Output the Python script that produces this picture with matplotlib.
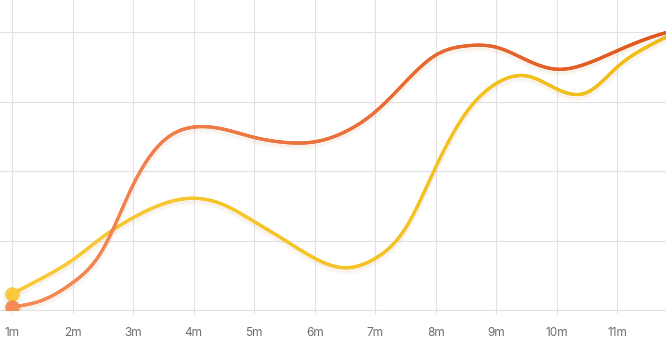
import numpy as np
import matplotlib
matplotlib.use("Agg")
import matplotlib.pyplot as plt
from matplotlib.collections import LineCollection
from matplotlib.colors import LinearSegmentedColormap

# x axis ticks
months = [1, 2, 3, 4, 5, 6, 7, 8, 9, 10, 11, 12]
month_labels = ["1m", "2m", "3m", "4m", "5m", "6m", "7m", "8m", "9m", "10m", "11m", "12m"]
y_ticks = [0, 25, 50, 75, 100]

# values every half month
x_points = [1, 1.5, 2, 2.5, 3, 3.5, 4, 4.5, 5, 5.5, 6, 6.5,
            7, 7.5, 8, 8.5, 9, 9.5, 10, 10.5, 11, 11.5, 12]
series_orange = [1.1, 3.5, 9.8, 21.8, 45.0, 60.8, 65.8, 65.0, 62.1, 60.3, 60.5, 64.1,
                 71.3, 82.1, 91.7, 95.0, 94.5, 89.9, 86.6, 88.7, 93.3, 97.7, 101.0]
series_yellow = [5.8, 11.5, 18.0, 26.3, 33.2, 38.2, 40.2, 37.8, 31.8, 25.2, 18.6, 15.2,
                 18.6, 29.5, 51.5, 71.0, 81.5, 84.2, 79.5, 78.3, 87.5, 94.8, 100.3]

GRID = "#e2e2e2"
LABEL = "#6e6e6e"


def natural_spline(x, y, xs):
    """Natural cubic spline through the data points (smooth line style)."""
    x = np.asarray(x, float)
    y = np.asarray(y, float)
    n = len(x)
    h = np.diff(x)
    A = np.zeros((n, n))
    r = np.zeros(n)
    A[0, 0] = A[-1, -1] = 1
    for i in range(1, n - 1):
        A[i, i - 1] = h[i - 1]
        A[i, i] = 2 * (h[i - 1] + h[i])
        A[i, i + 1] = h[i]
        r[i] = 3 * ((y[i + 1] - y[i]) / h[i] - (y[i] - y[i - 1]) / h[i - 1])
    c = np.linalg.solve(A, r)
    b = (y[1:] - y[:-1]) / h - h * (2 * c[:-1] + c[1:]) / 3
    d = (c[1:] - c[:-1]) / (3 * h)
    idx = np.clip(np.searchsorted(x, xs) - 1, 0, n - 2)
    dx = xs - x[idx]
    return y[idx] + b[idx] * dx + c[idx] * dx ** 2 + d[idx] * dx ** 3


def gradient_line(ax, x, y, c_start, c_end, z):
    xs = np.linspace(x[0], x[-1], 800)
    ys = natural_spline(x, y, xs)
    # soft shadow under the line
    for off, a in [(-0.9, 0.06), (-1.6, 0.04)]:
        ax.plot(xs, ys + off, color="#c08040", lw=3.5, alpha=a,
                solid_capstyle="round", zorder=z - 1)
    pts = np.column_stack([xs, ys]).reshape(-1, 1, 2)
    segs = np.concatenate([pts[:-1], pts[1:]], axis=1)
    cmap = LinearSegmentedColormap.from_list("g", [c_start, c_end])
    lc = LineCollection(segs, cmap=cmap, linewidths=2.3, capstyle="round",
                        zorder=z)
    lc.set_array((xs[:-1] - x[0]) / (x[-1] - x[0]))
    ax.add_collection(lc)
    ax.scatter([x[0]], [y[0] - 0.6], s=180, color="#000000", alpha=0.05,
               linewidths=0, zorder=z + 1)
    ax.scatter([x[0]], [y[0]], s=105, color=c_start, linewidths=0, zorder=z + 2)


fig = plt.figure(figsize=(6.66, 3.55), dpi=100)
ax = fig.add_axes([0, 45 / 355, 1, 310 / 355])

gradient_line(ax, x_points, series_yellow, "#f9c93a", "#f0bd12", 3)
gradient_line(ax, x_points, series_orange, "#f58b57", "#df561b", 6)

ax.set_xticks(months)
ax.set_xticklabels(month_labels)
ax.set_yticks(y_ticks)
ax.set_yticklabels([])

# limits after the ticks, otherwise set_xticks widens the view to 12m
px = 60.55  # pixels per month
ax.set_xlim(1 - 12 / px, 1 + 654 / px)
ax.set_ylim(0, 100 + 32 / 69.5 * 25)

ax.grid(True, color=GRID, lw=0.8)
ax.set_axisbelow(True)
for s in ["top", "right", "left"]:
    ax.spines[s].set_visible(False)
ax.spines["bottom"].set_color(GRID)
ax.spines["bottom"].set_linewidth(0.8)
ax.tick_params(axis="x", length=3, color=GRID, pad=9, labelsize=8.5,
               labelcolor=LABEL)
ax.tick_params(axis="y", length=0)
for t in ax.get_xticklabels():
    t.set_fontfamily(["Inter", "DejaVu Sans"])

fig.savefig("out.png", dpi=100)
